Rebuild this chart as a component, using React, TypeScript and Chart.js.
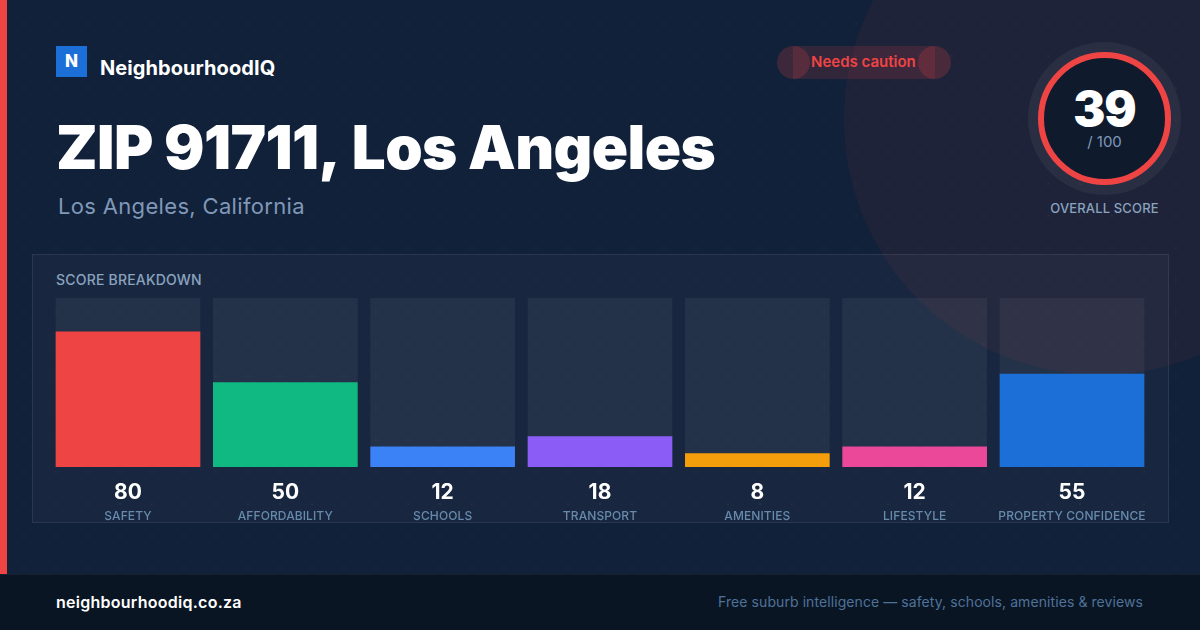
import React, { useEffect, useRef } from "react";
import { Chart, registerables } from "chart.js";

Chart.register(...registerables);

const categories = ["SAFETY", "AFFORDABILITY", "SCHOOLS", "TRANSPORT", "AMENITIES", "LIFESTYLE", "PROPERTY CONFIDENCE"];
const scores = [80, 50, 12, 18, 8, 12, 55];
const trackMax = [100, 100, 100, 100, 100, 100, 100];
const barColors = ["#ef4444", "#10b981", "#3b82f6", "#8b5cf6", "#f59e0b", "#ec4899", "#1d6fd8"];

const FONT = "Inter, 'Noto Sans', sans-serif";
const RED = "#ef4444";

const abs = (left: number, top: number, width: number, height: number, extra: React.CSSProperties = {}): React.CSSProperties => ({
  position: "absolute", left, top, width, height, ...extra,
});
const txt = (left: number, top: number, size: number, weight: number, color: string, extra: React.CSSProperties = {}): React.CSSProperties => ({
  position: "absolute", left, top, fontSize: size, fontWeight: weight, color, whiteSpace: "nowrap", lineHeight: "1", fontFamily: FONT, ...extra,
});

const spacing = {
  id: "labelSpacing",
  beforeDraw: (chart: any) => { chart.ctx.letterSpacing = "0.1px"; },
};

export default function App() {
  const ref = useRef<HTMLCanvasElement>(null);
  useEffect(() => {
    const chart = new Chart(ref.current!, {
      type: "bar",
      plugins: [spacing],
      data: {
        labels: categories,
        datasets: [
          { label: "Score", data: scores, backgroundColor: barColors, barThickness: 144, grouped: false, order: 1, xAxisID: "x", yAxisID: "y" },
          { label: "Track", data: trackMax, backgroundColor: "rgba(255,255,255,0.05)", barThickness: 144, grouped: false, order: 2, xAxisID: "x", yAxisID: "y" },
        ],
      },
      options: {
        animation: false,
        responsive: false,
        layout: { padding: { left: 17.33, right: 17.33, top: 0, bottom: 0 } },
        plugins: { legend: { display: false }, tooltip: { enabled: false } },
        scales: {
          y: { display: false, min: 0, max: 100 },
          x: {
            position: "bottom", weight: 1,
            grid: { display: false, drawTicks: false }, border: { display: false },
            afterFit: (s: any) => { s.height = 42; },
            ticks: {
              autoSkip: false, maxRotation: 0, minRotation: 0, padding: 13,
              color: "#ffffff", font: { family: FONT, size: 21, weight: 700 },
              callback: (_v: any, i: number) => String(scores[i]),
            },
          },
          x2: {
            type: "category", labels: categories, position: "bottom", weight: 2,
            grid: { display: false, drawTicks: false }, border: { display: false },
            afterFit: (s: any) => { s.height = 19; },
            ticks: {
              autoSkip: false, maxRotation: 0, minRotation: 0, padding: 0,
              color: "#678aac", font: { family: FONT, size: 12, weight: 500 },
            },
          },
        },
      },
    } as any);
    return () => chart.destroy();
  }, []);

  const dots = "radial-gradient(circle at 24px 24px, rgba(255,255,255,0.045) 1px, transparent 1.5px)";
  return (
    <div style={abs(0, 0, 1200, 630, { position: "fixed", overflow: "hidden", background: "#112139", fontFamily: FONT })}>
      <div style={abs(0, 0, 1200, 630, { backgroundImage: dots, backgroundSize: "32px 32px" })} />
      <div style={abs(844, -137, 512, 512, { borderRadius: "50%", background: "rgba(239,68,68,0.06)" })} />
      <div style={abs(0, 0, 7, 574, { background: RED })} />

      <div style={abs(56, 46, 31, 31, { background: "#1d6fd8" })} />
      <div style={txt(65, 53, 17, 800, "#ffffff")}>N</div>
      <div style={txt(100, 58, 20, 700, "#ffffff", { letterSpacing: "0.07px" })}>NeighbourhoodIQ</div>
      <div style={txt(56, 117, 60, 900, "#ffffff", { letterSpacing: "-0.6px" })}>ZIP 91711, <span style={{ marginLeft: 3.5 }}>Los Angeles</span></div>
      <div style={txt(58, 195, 22, 400, "#8098b8", { letterSpacing: "0.33px" })}>Los Angeles, California</div>

      <div style={abs(777, 46, 33, 33, { borderRadius: "50%", background: "rgba(239,68,68,0.2)" })} />
      <div style={abs(918, 46, 33, 33, { borderRadius: "50%", background: "rgba(239,68,68,0.2)" })} />
      <div style={abs(793, 46, 142, 33, { background: "rgba(239,68,68,0.15)" })} />
      <div style={txt(811, 54, 15, 600, RED)}>Needs caution</div>

      <div style={abs(1028, 42, 153, 153, { borderRadius: "50%", background: "rgba(255,255,255,0.05)" })} />
      <div style={abs(1038, 52, 133, 133, { borderRadius: "50%", background: "#0f1b2d", border: `6px solid ${RED}`, boxSizing: "border-box" })} />
      <div style={{ ...txt(1038, 85, 48, 900, "#ffffff", { letterSpacing: "-1px" }), width: 133, textAlign: "center" }}>39</div>
      <div style={{ ...txt(1038, 134, 15, 400, "#8098b8"), width: 133, textAlign: "center" }}>/ 100</div>
      <div style={{ ...txt(1038, 202, 13, 500, "#8aa3bf", { letterSpacing: "0.15px" }), width: 133, textAlign: "center" }}>OVERALL SCORE</div>

      <div style={abs(32, 254, 1137, 269, { boxSizing: "border-box", background: "rgba(255,255,255,0.03)", border: "1px solid rgba(255,255,255,0.08)" })} />
      <div style={txt(56, 273, 14, 500, "#8aa3bf", { letterSpacing: "0.2px" })}>SCORE BREAKDOWN</div>
      <canvas ref={ref} width={1136} height={230} style={abs(32, 298, 1136, 230, { display: "block" })} />

      <div style={abs(0, 574, 1200, 56, { background: "#0a1524", borderTop: "1px solid rgba(255,255,255,0.05)", boxSizing: "border-box" })} />
      <div style={txt(56, 594, 16, 600, "#ffffff", { letterSpacing: "0.26px" })}>neighbourhoodiq.co.za</div>
      <div style={{ ...txt(0, 595, 14, 400, "#4f7299", { letterSpacing: "0.08px" }), left: "auto", right: 57 }}>Free suburb intelligence — safety, schools, amenities &amp; reviews</div>
    </div>
  );
}
